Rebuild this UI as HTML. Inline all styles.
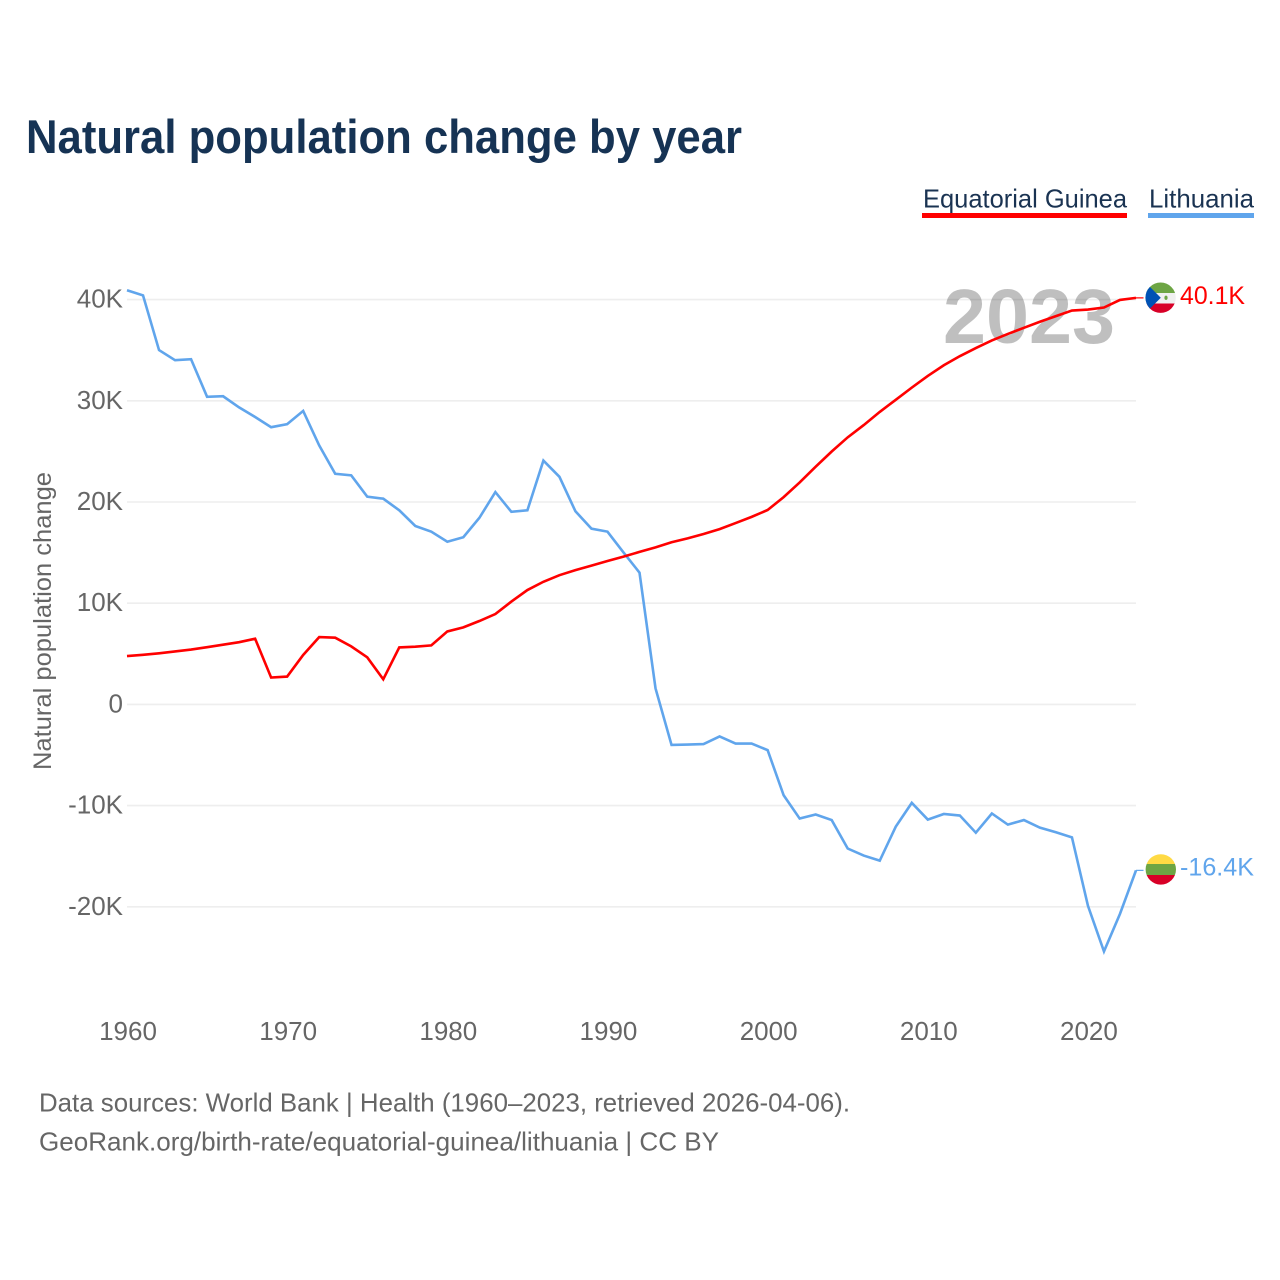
<!DOCTYPE html>
<html lang="en">
<head>
<meta charset="utf-8">
<title>Natural population change by year</title>
<style>
html,body{margin:0;padding:0;background:#fff;}
svg{display:block;font-family:"Liberation Sans",sans-serif;}
</style>
</head>
<body>
<svg id="chart" xmlns="http://www.w3.org/2000/svg" width="1280" height="1280" viewBox="0 0 1280 1280">
  <rect x="0" y="0" width="1280" height="1280" fill="#fff"/>
  <text x="26" y="153" font-size="47" font-weight="700" fill="#163354" textLength="716" lengthAdjust="spacingAndGlyphs">Natural population change by year</text>

  <g>
    <text x="923" y="207.5" font-size="26" fill="#1a3352" textLength="204" lengthAdjust="spacingAndGlyphs">Equatorial Guinea</text>
    <rect x="922" y="213" width="205" height="5" fill="#ff0000"/>
  </g>
  <g>
    <text x="1149" y="207.5" font-size="26" fill="#1a3352" textLength="105" lengthAdjust="spacingAndGlyphs">Lithuania</text>
    <rect x="1148" y="213" width="106" height="5" fill="#60a5ec"/>
  </g>

  <g id="grid"></g>
  <text x="943" y="343" font-size="77" font-weight="700" fill="#000" fill-opacity="0.25" textLength="172" lengthAdjust="spacingAndGlyphs">2023</text>
  <g id="yticks"></g>
  <g id="xticks"></g>
  <text transform="translate(51 770) rotate(-90)" x="0" y="0" font-size="25" fill="#666" textLength="298" lengthAdjust="spacingAndGlyphs">Natural population change</text>
  <g id="series"></g>

  <defs>
    <clipPath id="clip-gq"><circle cx="1160.6" cy="297.7" r="15.2"/></clipPath>
    <clipPath id="clip-lt"><circle cx="1160.8" cy="869.4" r="15.2"/></clipPath>
  </defs>
  <g clip-path="url(#clip-gq)">
    <rect x="1145" y="282" width="32" height="11" fill="#6da544"/>
    <rect x="1145" y="293" width="32" height="10.5" fill="#f0f0f0"/>
    <rect x="1145" y="303.5" width="32" height="10.5" fill="#d80027"/>
    <polygon points="1145,282 1160.8,297.7 1145,313.5" fill="#0052b4"/>
    <ellipse cx="1166" cy="297.8" rx="1.6" ry="2.2" fill="#6da544"/>
  </g>
  <g clip-path="url(#clip-lt)">
    <rect x="1145" y="853" width="32" height="11" fill="#ffda44"/>
    <rect x="1145" y="864" width="32" height="11" fill="#6da544"/>
    <rect x="1145" y="875" width="32" height="11" fill="#d80027"/>
  </g>

  <text x="1180" y="304" font-size="25" fill="#ff0000" textLength="65" lengthAdjust="spacingAndGlyphs">40.1K</text>
  <text x="1180" y="875.5" font-size="25" fill="#60a5ec" textLength="74" lengthAdjust="spacingAndGlyphs">-16.4K</text>

  <text x="39" y="1111.5" font-size="26" fill="#666" textLength="811" lengthAdjust="spacingAndGlyphs">Data sources: World Bank | Health (1960–2023, retrieved 2026-04-06).</text>
  <text x="39" y="1150.5" font-size="26" fill="#666" textLength="680" lengthAdjust="spacingAndGlyphs">GeoRank.org/birth-rate/equatorial-guinea/lithuania | CC BY</text>
</svg>
<script>
const startYear = 1960;
const xTickYears = [1960, 1970, 1980, 1990, 2000, 2010, 2020];
const yTickValues = [40, 30, 20, 10, 0, -10, -20];
const yTickLabels = ["40K", "30K", "20K", "10K", "0", "-10K", "-20K"];
const equatorialGuinea = [4.78,4.9,5.05,5.23,5.42,5.65,5.9,6.15,6.49,2.65,2.75,4.88,6.65,6.59,5.73,4.65,2.48,5.63,5.7,5.83,7.21,7.61,8.24,8.93,10.16,11.3,12.12,12.77,13.27,13.71,14.17,14.6,15.07,15.52,16.02,16.41,16.84,17.32,17.92,18.53,19.21,20.48,21.93,23.49,24.99,26.39,27.6,28.9,30.1,31.3,32.46,33.51,34.41,35.21,35.96,36.61,37.21,37.81,38.37,38.92,39.02,39.22,39.97,40.17];
const lithuania = [40.92,40.42,35.01,34.01,34.11,30.4,30.45,29.35,28.4,27.39,27.69,29.0,25.59,22.79,22.63,20.53,20.33,19.18,17.63,17.07,16.07,16.52,18.43,20.98,19.03,19.18,24.09,22.49,19.08,17.37,17.07,15.02,13.02,1.59,-4.01,-3.97,-3.92,-3.17,-3.87,-3.87,-4.52,-8.98,-11.28,-10.88,-11.43,-14.24,-14.94,-15.44,-12.08,-9.73,-11.38,-10.83,-10.98,-12.68,-10.78,-11.88,-11.43,-12.18,-12.63,-13.14,-19.9,-24.41,-20.7,-16.4];

const NS = "http://www.w3.org/2000/svg";
function xScale(year) { return 127 + (year - 1960) * (1136 - 127) / 63; }
function yScale(v) { return 704.4 - v * 10.12; }

const grid = document.getElementById("grid");
const yticks = document.getElementById("yticks");
const xticks = document.getElementById("xticks");
const seriesGroup = document.getElementById("series");

yTickValues.forEach(function (v, i) {
  const line = document.createElementNS(NS, "line");
  
  
  line.setAttribute("x1", xScale(1960));
  line.setAttribute("x2", xScale(2023));
  line.setAttribute("y1", yScale(v));
  line.setAttribute("y2", yScale(v));
  line.setAttribute("stroke", "#eeeeee");
  line.setAttribute("stroke-width", "1.6");
  grid.appendChild(line);

  const t = document.createElementNS(NS, "text");
  
  
  t.setAttribute("x", 123);
  t.setAttribute("y", yScale(v) + 8);
  t.setAttribute("text-anchor", "end");
  t.setAttribute("font-size", "26");
  t.setAttribute("fill", "#666");
  t.textContent = yTickLabels[i];
  yticks.appendChild(t);
});

xTickYears.forEach(function (year) {
  const t = document.createElementNS(NS, "text");
  
  
  t.setAttribute("x", xScale(year) + 1);
  t.setAttribute("y", 1040);
  t.setAttribute("text-anchor", "middle");
  t.setAttribute("font-size", "26");
  t.setAttribute("fill", "#666");
  t.textContent = String(year);
  xticks.appendChild(t);
});

function drawSeries(values, color) {
  const d = values.map(function (v, i) {
    return (i ? "L" : "M") + xScale(startYear + i).toFixed(2) + " " + yScale(v).toFixed(2);
  }).join(" ");
  const path = document.createElementNS(NS, "path");
  
  
  path.setAttribute("d", d);
  path.setAttribute("fill", "none");
  path.setAttribute("stroke", color);
  path.setAttribute("stroke-width", "2.6");
  path.setAttribute("stroke-linejoin", "miter");
  seriesGroup.appendChild(path);

  const last = values[values.length - 1];
  const stub = document.createElementNS(NS, "line");
  
  
  stub.setAttribute("x1", xScale(startYear + values.length - 1));
  stub.setAttribute("x2", xScale(startYear + values.length - 1) + 7.5);
  stub.setAttribute("y1", yScale(last));
  stub.setAttribute("y2", yScale(last));
  stub.setAttribute("stroke", color);
  stub.setAttribute("stroke-width", "1.2");
  seriesGroup.appendChild(stub);
}

drawSeries(lithuania, "#60a5ec");
drawSeries(equatorialGuinea, "#ff0000");
</script>
</body>
</html>
